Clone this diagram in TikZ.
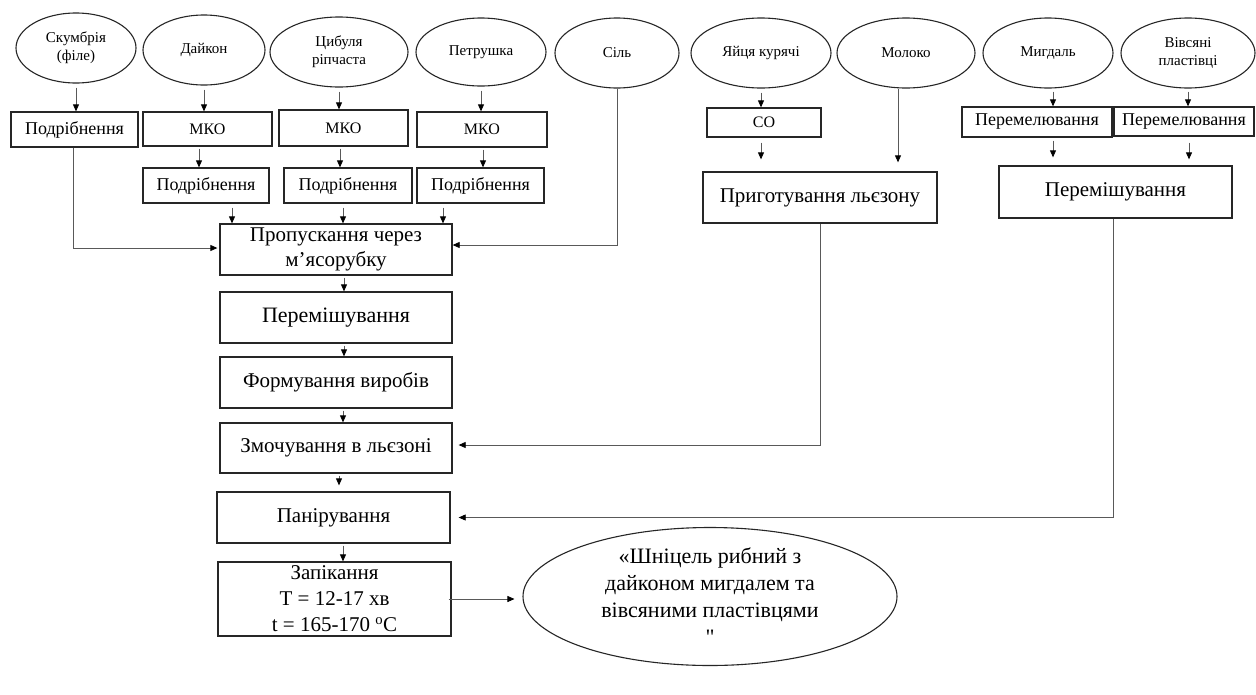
\documentclass[tikz,border=0pt]{standalone}
\usepackage{fontspec}
\setmainfont{Liberation Serif}
\usetikzlibrary{shapes.geometric,arrows.meta,calc}
\begin{document}
\begin{tikzpicture}[x=1pt,y=-1pt,
  oval/.style={ellipse,draw=black!85,line width=1.1pt,inner sep=0pt,align=center,font=\fontsize{15}{18}\selectfont},
  box/.style={rectangle,draw=black!85,line width=1.3pt,inner sep=0pt,align=center,font=\fontsize{18}{22}\selectfont},
  smallbox/.style={box,font=\fontsize{16}{20}\selectfont},
  bigbox/.style={box,font=\fontsize{21}{25}\selectfont},
  arr/.style={draw=black!65,line width=0.8pt,shorten <=2pt,-{Triangle[length=7pt,width=6pt,black]}},
  conn/.style={draw=black!65,line width=0.8pt,-{Triangle[length=7pt,width=6pt,black]}},
]
\fill[white] (0,0) rectangle (1256,694);
\useasboundingbox (0,0) rectangle (1256,694);

% top ellipses
\node[oval,minimum width=120pt,minimum height=70pt] (e1) at (76,48) {Скумбрія\\(філе)};
\node[oval,minimum width=122pt,minimum height=70pt] (e2) at (204,50) {Дайкон};
\node[oval,minimum width=138pt,minimum height=70pt] (e3) at (339,52) {Цибуля\\ріпчаста};
\node[oval,minimum width=130pt,minimum height=68pt] (e4) at (481,52) {Петрушка};
\node[oval,minimum width=124pt,minimum height=70pt] (e5) at (617,53) {Сіль};
\node[oval,minimum width=140pt,minimum height=70pt] (e6) at (761,53) {Яйця курячі};
\node[oval,minimum width=138pt,minimum height=70pt] (e7) at (906,53) {Молоко};
\node[oval,minimum width=130pt,minimum height=70pt] (e8) at (1048,53) {Мигдаль};
\node[oval,minimum width=134pt,minimum height=70pt] (e9) at (1188,53) {Вівсяні\\пластівці};

% second row
\node[box,minimum width=127pt,minimum height=35pt] (b1) at (74.5,129.5) {Подрібнення};
\node[smallbox,minimum width=129pt,minimum height=34pt] (m1) at (207.5,129) {МКО};
\node[smallbox,minimum width=129pt,minimum height=36pt] (m2) at (343.5,128) {МКО};
\node[smallbox,minimum width=130pt,minimum height=35pt] (m3) at (482,129.5) {МКО};
\node[smallbox,minimum width=114pt,minimum height=29pt] (so) at (764,122.5) {СО};
\node[box,minimum width=150pt,minimum height=30pt] (p1) at (1037,122) {Перемелювання};
\node[box,minimum width=140pt,minimum height=29pt] (p2) at (1184,121.5) {Перемелювання};

% third row
\node[box,minimum width=126pt,minimum height=35pt] (d1) at (206,185.5) {Подрібнення};
\node[box,minimum width=128pt,minimum height=35pt] (d2) at (348,185.5) {Подрібнення};
\node[box,minimum width=127pt,minimum height=35pt] (d3) at (480.5,185.5) {Подрібнення};
\node[bigbox,minimum width=234pt,minimum height=51pt] (prl) at (820,197.5) {Приготування льєзону};
\node[bigbox,minimum width=233pt,minimum height=52pt] (mix2) at (1115.5,192) {Перемішування};

% central column
\node[bigbox,minimum width=232pt,minimum height=51pt] (c1) at (336,249.5) {Пропускання через\\м’ясорубку};
\node[bigbox,minimum width=232pt,minimum height=51pt,font=\fontsize{22}{26}\selectfont] (c2) at (336,317.5) {Перемішування};
\node[bigbox,minimum width=232pt,minimum height=51pt] (c3) at (336,382.5) {Формування виробів};
\node[bigbox,minimum width=232pt,minimum height=50pt] (c4) at (336,448) {Змочування в льєзоні};
\node[bigbox,minimum width=233pt,minimum height=51pt] (c5) at (333.5,517.5) {Панірування};
\node[bigbox,minimum width=233pt,minimum height=74pt,font=\fontsize{21}{26}\selectfont] (c6) at (334.5,599) {Запікання\\Т = 12-17 хв\\t = 165-170 \textsuperscript{o}C};

% final ellipse
\node[oval,minimum width=374pt,minimum height=138pt] (fin) at (710,596.5) {};
\node[align=center,inner sep=0pt,font=\fontsize{22}{27}\selectfont] (fintext) at (fin.center) {«Шніцель рибний з\\дайконом мигдалем та\\вівсяними пластівцями\\\textquotedbl};

% arrows from ellipses
\draw[arr,shorten <=4pt] (e1.south) -- (e1.south |- b1.north);
\draw[arr,shorten <=4pt] (e2.south) -- (e2.south |- m1.north);
\draw[arr,shorten <=4pt] (e3.south) -- (e3.south |- m2.north);
\draw[arr,shorten <=4pt] (e4.south) -- (e4.south |- m3.north);
\draw[arr,shorten <=4pt] (e6.south) -- (e6.south |- so.north);
\draw[arr,shorten <=3pt] ([xshift=5pt]e8.south) -- ([xshift=5pt]e8.south |- p1.north);
\draw[arr,shorten <=3pt] (e9.south) -- (e9.south |- p2.north);

% second to third row
\draw[arr] ([xshift=-8.5pt]m1.south) -- ([xshift=-8.5pt]m1.south |- d1.north);
\draw[arr] ([xshift=-3.5pt]m2.south) -- ([xshift=-3.5pt]m2.south |- d2.north);
\draw[arr] ([xshift=1pt]m3.south) -- ([xshift=1pt]m3.south |- d3.north);
\draw[arr,shorten <=5pt,shorten >=12pt] ([xshift=-3pt]so.south) -- ([xshift=-3pt]so.south |- prl.north);
\draw[conn,shorten >=9pt] ([xshift=-8pt]e7.south) -- ([xshift=-8pt]e7.south |- prl.north);
\draw[arr,shorten <=3pt,shorten >=8pt] ([xshift=16pt]p1.south) -- ([xshift=16pt]p1.south |- mix2.north);
\draw[arr,shorten <=6pt,shorten >=6pt] ([xshift=5pt]p2.south) -- ([xshift=5pt]p2.south |- mix2.north);

% into Пропускання
\draw[arr,shorten <=4pt] ([xshift=26pt]d1.south) -- ([xshift=26pt]d1.south |- c1.north);
\draw[arr,shorten <=4pt] ([xshift=-5pt]d2.south) -- ([xshift=-5pt]d2.south |- c1.north);
\draw[arr,shorten <=4pt] ([xshift=-37.5pt]d3.south) -- ([xshift=-37.5pt]d3.south |- c1.north);
\draw[conn,shorten >=2pt] ([xshift=-1.5pt]b1.south) |- ([yshift=1.5pt]c1.west);
\draw[conn] (e5.south) |- ([yshift=4.5pt]c1.east);

% central chain
\draw[arr] ([xshift=8pt]c1.south) -- ([xshift=8pt]c1.south |- c2.north);
\draw[arr] ([xshift=8pt]c2.south) -- ([xshift=8pt]c2.south |- c3.north);
\draw[arr] ([xshift=7pt]c3.south) -- ([xshift=7pt]c3.south |- c4.north);
\draw[arr,shorten >=6pt] ([xshift=3pt]c4.south) -- ([xshift=3pt]c4.south |- c5.north);
\draw[arr] ([xshift=9.5pt]c5.south) -- ([xshift=9.5pt]c5.south |- c6.north);

% side feeds
\draw[conn,shorten >=6pt] (prl.south) |- ([yshift=3pt]c4.east);
\draw[conn,shorten >=8pt] ([xshift=-2.5pt]mix2.south) |- (c5.east);

% to final
\draw[conn,shorten >=8pt] ([xshift=-3pt]c6.east) -- (c6.east -| fin.west);
\end{tikzpicture}
\end{document}
